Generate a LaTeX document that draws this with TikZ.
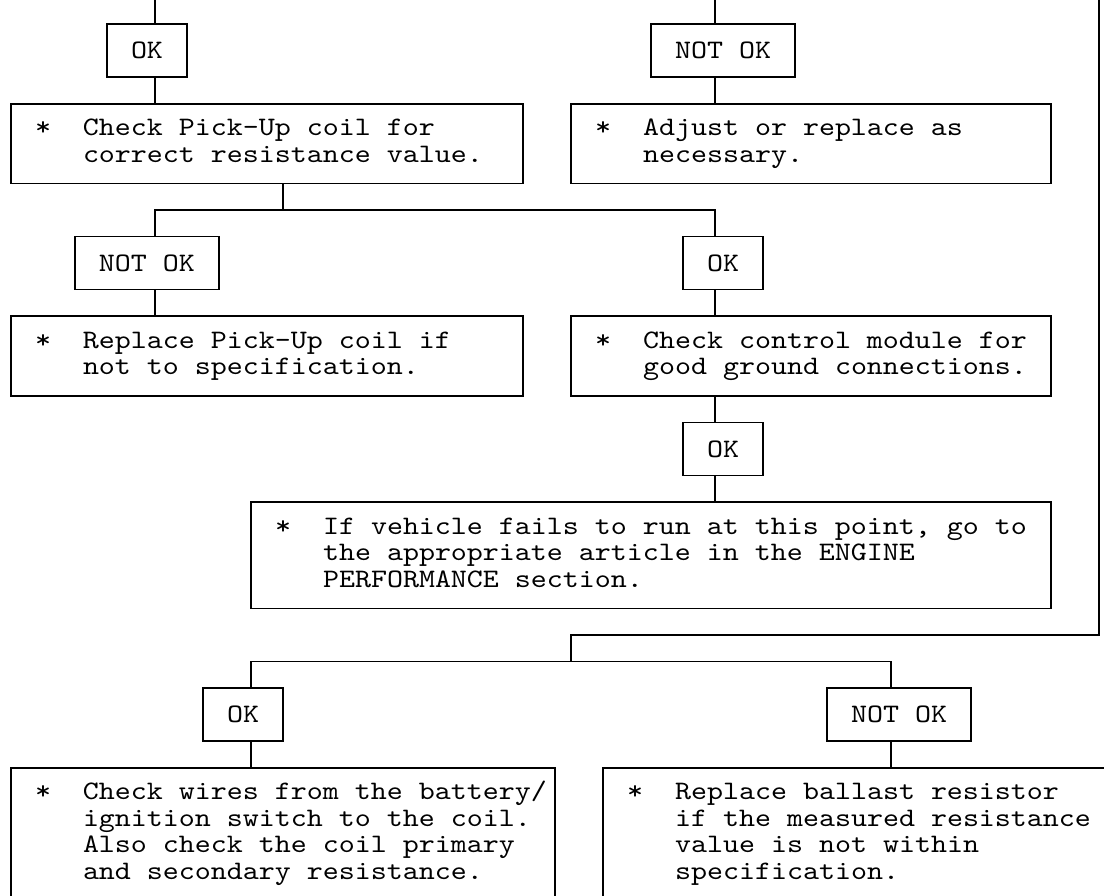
\documentclass[tikz,border=0pt]{standalone}
\usepackage{fontspec}
\setmonofont[FakeStretch=1.142857]{lmmono10-regular.otf}
\usepackage{tikz}

\newlength{\cw}\setlength{\cw}{9.6pt}
\newlength{\rh}\setlength{\rh}{15.94pt}
\newcommand{\st}{*\hspace*{2\cw}}
\newcommand{\ind}{\hspace*{3\cw}}

\begin{document}
\begin{tikzpicture}[x=9.6pt, y=-15.94pt,
			every node/.style={draw, line width=1pt, inner sep=0pt,
				font=\ttfamily\fontsize{16pt}{15.94pt}\selectfont},
			tag/.style={minimum width=#1*\cw, minimum height=2*\rh},
			note/.style 2 args={minimum width=#1*\cw, minimum height=#2*\rh,
				text width=#1\cw, execute at begin node={\noindent\leftskip=1.5\cw
					\spaceskip=\cw\xspaceskip=\cw\strut},
				execute at end node={\strut}},
			link/.style={draw, line width=1pt}
			]
			
			\clip (-0.6875,-0.9033) rectangle (68.3125,32.8193);
			\fill[white] (-0.6875,-0.9033) rectangle (68.3125,32.8193);
			
			% entry points from above
			\coordinate (in1) at (9,-1);
			\coordinate (in2) at (44,-1);
			\coordinate (in3) at (68,-1);
			
			% first row
			\node[tag=5] (ok1) at (8.5,1) {OK};
			\node[tag=9] (nok1) at (44.5,1) {NOT\hspace*{\cw}OK};
			\node[note={32}{3}] (pickup) at (16,4.5)
			{\st Check Pick-Up coil for\\\ind correct resistance value.};
			\node[note={30}{3}] (adjust) at (50,4.5)
			{\st Adjust or replace as\\\ind necessary.};
			
			% pick-up coil branches
			\node[tag=9] (nok2) at (8.5,9) {NOT\hspace*{\cw}OK};
			\node[tag=5] (ok2) at (44.5,9) {OK};
			\node[note={32}{3}] (replace) at (16,12.5)
			{\st Replace Pick-Up coil if\\\ind not to specification.};
			\node[note={30}{3}] (module) at (50,12.5)
			{\st Check control module for\\\ind good ground connections.};
			\node[tag=5] (ok3) at (44.5,16) {OK};
			\node[note={50}{4}] (fails) at (40,20)
			{\st If vehicle fails to run at this point, go to\\\ind the appropriate article in the ENGINE\\\ind PERFORMANCE section.};
			
			% lower branches
			\node[tag=5] (ok4) at (14.5,26) {OK};
			\node[tag=9] (nok3) at (55.5,26) {NOT\hspace*{\cw}OK};
			\node[note={34}{5}] (wires) at (17,30.5)
			{\st Check wires from the battery/\\\ind ignition switch to the coil.\\\ind Also check the coil primary\\\ind and secondary resistance.};
			\node[note={33}{5}] (ballast) at (53.5,30.5)
			{\st Replace ballast resistor\\\ind if the measured resistance\\\ind value is not within\\\ind specification.};
			
			\coordinate (split1) at (17,7);
			\coordinate (split2) at (35,23);
			\coordinate (split3) at (35,24);
			\coordinate (lft) at (15,24);
			\coordinate (rgt) at (55,24);
			
			\draw[link] (in1) -- (ok1.north -| in1);
			\draw[link] (ok1.south -| in1) -- (pickup.north -| in1);
			\draw[link] (in2) -- (nok1.north -| in2);
			\draw[link] (nok1.south -| in2) -- (adjust.north -| in2);
			
			\draw[link] (pickup.south -| split1) -- (split1);
			\draw[link] (nok2.north -| in1) |- (split1) -| (ok2.north -| in2);
			\draw[link] (nok2.south -| in1) -- (replace.north -| in1);
			\draw[link] (ok2.south -| in2) -- (module.north -| in2);
			\draw[link] (module.south -| in2) -- (ok3.north -| in2);
			\draw[link] (ok3.south -| in2) -- (fails.north -| in2);
			
			\draw[link] (in3) |- (split2) -- (split3);
			\draw[link] (ok4.north -| lft) |- (split3) -| (nok3.north -| rgt);
			\draw[link] (ok4.south -| lft) -- (wires.north -| lft);
			\draw[link] (nok3.south -| rgt) -- (ballast.north -| rgt);
			
		\end{tikzpicture}
\end{document}
